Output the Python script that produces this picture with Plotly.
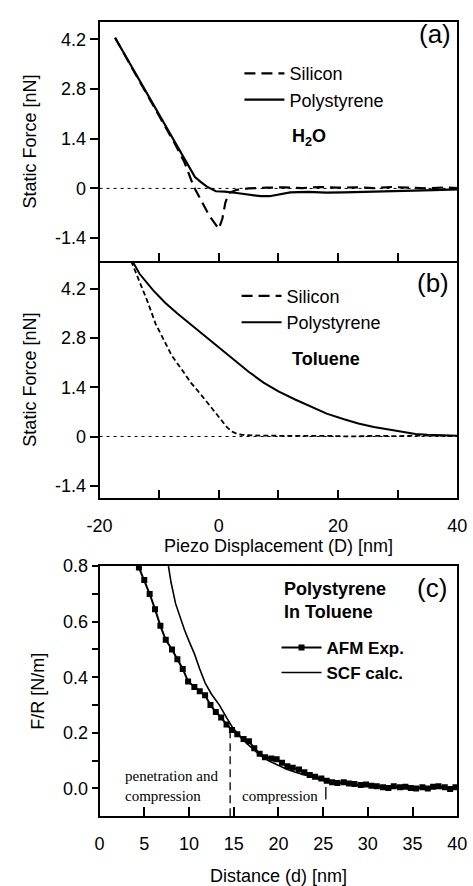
import plotly.graph_objects as go

FONT = "Liberation Sans"
SERIF = "Liberation Serif"

# ---------------- data ----------------
# Panel (a): water
si_a_x = [-17.4, -15, -12.5, -10, -7.5, -5.8, -4.2, -3.1, -1.6, 0.0, 0.6, 1.1, 1.7, 3, 5, 8, 11, 14, 17, 20, 23, 26, 29, 32, 35, 38, 40]
si_a_y = [4.25, 3.52, 2.78, 2.04, 1.30, 0.75, 0.05, -0.30, -0.77, -1.14, -0.85, -0.40, -0.13, -0.04, 0.0, 0.02, 0.03, 0.01, 0.04, 0.02, 0.03, 0.01, 0.04, 0.02, 0.0, 0.03, 0.01]
ps_a_x = [-17.4, -15, -12.5, -10, -7.5, -5, -4, -3.1, -2, -0.5, 1, 3, 5, 7, 8.5, 10, 12, 15, 18, 21, 24, 27, 30, 33, 36, 40]
ps_a_y = [4.25, 3.54, 2.80, 2.06, 1.32, 0.58, 0.32, 0.19, 0.05, -0.08, -0.09, -0.13, -0.18, -0.22, -0.22, -0.17, -0.11, -0.10, -0.12, -0.11, -0.10, -0.08, -0.07, -0.08, -0.05, -0.03]

# Panel (b): toluene
si_b_x = [-14.7, -13.8, -12, -10.6, -9, -7.9, -6, -4.7, -3, -1.5, 0, 0.6, 1.4, 2.2, 3, 3.8, 6, 10, 14, 18, 22, 26, 30, 34, 38, 40]
si_b_y = [4.98, 4.6, 3.85, 3.2, 2.68, 2.3, 1.85, 1.53, 1.19, 0.88, 0.55, 0.42, 0.26, 0.14, 0.08, 0.05, 0.03, 0.02, 0.03, 0.02, 0.0, 0.02, 0.01, 0.03, 0.02, 0.01]
ps_b_x = [-14.5, -13.3, -11, -9, -7, -4.7, -2.5, -0.5, 1.5, 3.25, 5, 7.5, 10, 12.8, 15.5, 18.1, 21, 23.4, 26, 28.8, 31, 33, 35, 37, 40]
ps_b_y = [4.98, 4.62, 4.15, 3.8, 3.5, 3.18, 2.9, 2.62, 2.33, 2.08, 1.84, 1.53, 1.28, 1.05, 0.84, 0.65, 0.49, 0.37, 0.27, 0.19, 0.12, 0.07, 0.05, 0.04, 0.02]

# Panel (c): polystyrene in toluene
afm_d = [4.4, 5.0, 5.6, 6.2, 6.8, 7.4, 8.1, 8.7, 9.3, 9.9, 10.6, 11.2, 11.8, 12.4, 13.0, 13.6, 14.2, 14.8,
         15.4, 16.1, 16.7, 17.3, 17.9, 18.5, 19.2, 19.8, 20.4, 21.0, 21.6, 22.3, 22.9, 23.5, 24.1, 24.8,
         25.4, 26.0, 26.6, 27.3, 27.9, 28.5, 29.2, 29.8, 30.4, 31.0, 31.7, 32.3, 32.9, 33.6, 34.2, 34.8,
         35.4, 36.1, 36.7, 37.3, 37.9, 38.6, 39.2, 39.8]
afm_f = [0.795, 0.75, 0.70, 0.645, 0.585, 0.535, 0.50, 0.465, 0.43, 0.385, 0.365, 0.35, 0.335, 0.30, 0.275, 0.255, 0.23, 0.21,
         0.195, 0.178, 0.17, 0.145, 0.125, 0.112, 0.108, 0.105, 0.092, 0.08, 0.074, 0.068, 0.058, 0.048, 0.042, 0.036,
         0.028, 0.022, 0.02, 0.022, 0.018, 0.016, 0.012, 0.014, 0.01, 0.008, 0.004, 0.002, 0.008, 0.004, 0.006, 0.002,
         0.0, 0.004, 0.0, 0.006, 0.008, 0.004, -0.002, 0.004]
scf_d = [7.7, 8.0, 8.5, 9.0, 9.5, 10.0, 10.6, 11.2, 11.8, 12.5, 13.4, 14.2, 14.9, 16.0, 17.0, 18.0, 19.0, 20.0,
         21.0, 22.0, 23.5, 25.0, 27.0, 29.0, 31.0, 34.0, 37.0, 40.0]
scf_f = [0.80, 0.74, 0.665, 0.615, 0.57, 0.53, 0.485, 0.43, 0.38, 0.34, 0.30, 0.255, 0.218, 0.175, 0.145, 0.118, 0.098, 0.082,
         0.068, 0.057, 0.043, 0.03, 0.02, 0.012, 0.007, 0.004, 0.002, 0.001]

# regime boundaries in (c): distance, lower and upper extent of marker line
boundary_d = [14.6, 25.3]
boundary_lo = [-0.1, -0.04]
boundary_hi = [0.2, 0.005]
boundary_dash = ["8px,5px", "solid"]

force_ticks = [-1.4, 0, 1.4, 2.8, 4.2]
force_ticktext = ["-1.4", "0", "1.4", "2.8", "4.2"]
piezo_all_ticks = [-20, -10, 0, 10, 20, 30, 40]
piezo_label_ticks = [-20, 0, 20, 40]
piezo_ticktext = ["-20", "0", "20", "40"]
dist_ticks = [0, 5, 10, 15, 20, 25, 30, 35, 40]
fr_all_ticks = [0.0, 0.1, 0.2, 0.3, 0.4, 0.5, 0.6, 0.7, 0.8]
fr_label_ticks = [0.0, 0.2, 0.4, 0.6, 0.8]
fr_ticktext = ["0.0", "0.2", "0.4", "0.6", "0.8"]

# ---------------- figure ----------------
fig = go.Figure()
K = "black"

# (a)
fig.add_trace(go.Scatter(x=si_a_x, y=si_a_y, mode="lines", name="Silicon",
                         line=dict(color=K, width=2.2, dash="11px,6px"), xaxis="x", yaxis="y", legend="legend"))
fig.add_trace(go.Scatter(x=ps_a_x, y=ps_a_y, mode="lines", name="Polystyrene",
                         line=dict(color=K, width=2.2), xaxis="x", yaxis="y", legend="legend"))
# (b)
fig.add_trace(go.Scatter(x=si_b_x, y=si_b_y, mode="lines", name="Silicon", showlegend=False,
                         line=dict(color=K, width=1.8, dash="5px,3px"), xaxis="x2", yaxis="y2"))
fig.add_trace(go.Scatter(x=[None], y=[None], mode="lines", name="Silicon",
                         line=dict(color=K, width=2.2, dash="11px,6px"), xaxis="x2", yaxis="y2", legend="legend2"))
fig.add_trace(go.Scatter(x=ps_b_x, y=ps_b_y, mode="lines", name="Polystyrene",
                         line=dict(color=K, width=2.0), xaxis="x2", yaxis="y2", legend="legend2"))
# (c)
fig.add_trace(go.Scatter(x=afm_d, y=afm_f, mode="lines+markers", name="<b>AFM Exp.</b>",
                         line=dict(color=K, width=2.0), marker=dict(symbol="square", size=6, color=K),
                         xaxis="x3", yaxis="y3", legend="legend3"))
fig.add_trace(go.Scatter(x=scf_d, y=scf_f, mode="lines", name="<b>SCF calc.</b>",
                         line=dict(color=K, width=1.6), xaxis="x3", yaxis="y3", legend="legend3"))

# zero reference lines
for xr, yr in [("x domain", "y"), ("x2 domain", "y2")]:
    fig.add_shape(type="line", xref=xr, x0=0, x1=1, yref=yr, y0=0, y1=0,
                  line=dict(color=K, width=1, dash="3px,4px"), layer="below")

for d, lo, hi, ds in zip(boundary_d, boundary_lo, boundary_hi, boundary_dash):
    fig.add_shape(type="line", xref="x3", yref="y3", x0=d, x1=d, y0=lo, y1=hi,
                  line=dict(color=K, width=1.3, dash=ds))

XD = [91 / 473, 467 / 473]
H = 886
dom_a = [1 - 256 / H, 1 - 12 / H]
dom_b = [1 - 497.7 / H, 1 - 256 / H]
dom_c = [1 - 822 / H, 1 - 567 / H]

tickfont = dict(family=FONT, size=18, color=K)
titlefont = dict(family=FONT, size=18, color=K)
base = dict(showgrid=False, zeroline=False, showline=True, linewidth=2, linecolor=K,
            tickcolor=K, tickwidth=2, tickfont=tickfont, ticklabeloverflow="allow")
overlay = dict(showticklabels=False, showline=False, showgrid=False, zeroline=False,
               ticks="inside", tickwidth=2, tickcolor=K)

layout = dict(
    width=473, height=886, margin=dict(l=0, r=0, t=0, b=0),
    paper_bgcolor="white", plot_bgcolor="white",
    xaxis=dict(domain=XD, anchor="y", range=[-20, 40], tickvals=piezo_all_ticks, ticks="inside", ticklen=8,
               showticklabels=False, mirror=True, **base),
    yaxis=dict(domain=dom_a, anchor="x", range=[-2.05, 4.7], tickvals=force_ticks, ticktext=force_ticktext,
               ticks="outside", ticklen=8, mirror=True,
               title=dict(text="Static Force [nN]", font=titlefont, standoff=14), **base),
    yaxis4=dict(overlaying="y", anchor="x", range=[-2.05, 4.7], tickvals=force_ticks, ticklen=7, **overlay),
    xaxis2=dict(domain=XD, anchor="y2", range=[-20, 40], tickvals=piezo_label_ticks, ticktext=piezo_ticktext,
                ticks="inside", ticklen=8, ticklabelstandoff=10, mirror=False,
                minor=dict(tickvals=piezo_all_ticks, ticks="inside", ticklen=8, tickwidth=2, tickcolor=K),
                title=dict(text="Piezo Displacement (D) [nm]", font=titlefont, standoff=4), **base),
    yaxis2=dict(domain=dom_b, anchor="x2", range=[-1.75, 4.98], tickvals=force_ticks, ticktext=force_ticktext,
                ticks="outside", ticklen=8, mirror=True,
                title=dict(text="Static Force [nN]", font=titlefont, standoff=14), **base),
    yaxis5=dict(overlaying="y2", anchor="x2", range=[-1.75, 4.98], tickvals=force_ticks, ticklen=7, **overlay),
    xaxis3=dict(domain=XD, anchor="y3", range=[0, 40], tickvals=dist_ticks, ticks="inside", ticklen=9,
                ticklabelstandoff=10, mirror=True,
                title=dict(text="Distance (d) [nm]", font=titlefont, standoff=20), **base),
    yaxis3=dict(domain=dom_c, anchor="x3", range=[-0.1, 0.8], tickvals=fr_label_ticks, ticktext=fr_ticktext,
                ticks="outside", ticklen=6, mirror=True,
                minor=dict(tickvals=fr_all_ticks, ticks="outside", ticklen=6, tickwidth=2, tickcolor=K),
                title=dict(text="F/R [N/m]", font=titlefont, standoff=14), **base),
    yaxis6=dict(overlaying="y3", anchor="x3", range=[-0.1, 0.8], tickvals=fr_all_ticks, ticklen=6, **overlay),
    legend=dict(x=238 / 473, y=1 - 46 / H, xanchor="left", yanchor="top", font=dict(family=FONT, size=18, color=K),
                bgcolor="rgba(0,0,0,0)", itemwidth=40, tracegroupgap=0),
    legend2=dict(x=235 / 473, y=1 - 273 / H, xanchor="left", yanchor="top", font=dict(family=FONT, size=18, color=K),
                 bgcolor="rgba(0,0,0,0)", itemwidth=40, tracegroupgap=0),
    legend3=dict(x=277 / 473, y=1 - 632 / H, xanchor="left", yanchor="top", font=dict(family=FONT, size=17, color=K),
                 bgcolor="rgba(0,0,0,0)", itemwidth=40, tracegroupgap=0),
    showlegend=True,
)
fig.update_layout(**layout)

ann = [
    dict(text="(a)", x=39.2, y=4.36, xref="x", yref="y", xanchor="right", yanchor="middle",
         font=dict(family=FONT, size=26, color=K)),
    dict(text="<b>H<sub>2</sub>O</b>", x=12.0, y=1.44, xref="x", yref="y", xanchor="left", yanchor="middle",
         font=dict(family=FONT, size=18, color=K)),
    dict(text="(b)", x=39.0, y=4.36, xref="x2", yref="y2", xanchor="right", yanchor="middle",
         font=dict(family=FONT, size=26, color=K)),
    dict(text="<b>Toluene</b>", x=12.0, y=2.2, xref="x2", yref="y2", xanchor="left", yanchor="middle",
         font=dict(family=FONT, size=18, color=K)),
    dict(text="(c)", x=39.1, y=0.72, xref="x3", yref="y3", xanchor="right", yanchor="middle",
         font=dict(family=FONT, size=26, color=K)),
    dict(text="<b>Polystyrene<br>In Toluene</b>", x=20.4, y=0.675, xref="x3", yref="y3", xanchor="left",
         yanchor="middle", align="left", font=dict(family=FONT, size=18, color=K)),
    dict(text="penetration and<br>compression", x=2.57, y=0.008, xref="x3", yref="y3", xanchor="left",
         yanchor="middle", align="left", font=dict(family=SERIF, size=15, color=K)),
    dict(text="compression", x=15.7, y=-0.026, xref="x3", yref="y3", xanchor="left",
         yanchor="middle", align="left", font=dict(family=SERIF, size=15, color=K)),
]
for a in ann:
    a["showarrow"] = False
    fig.add_annotation(**a)

fig.write_html("out.html", post_script="document.body.style.margin='0px';")
